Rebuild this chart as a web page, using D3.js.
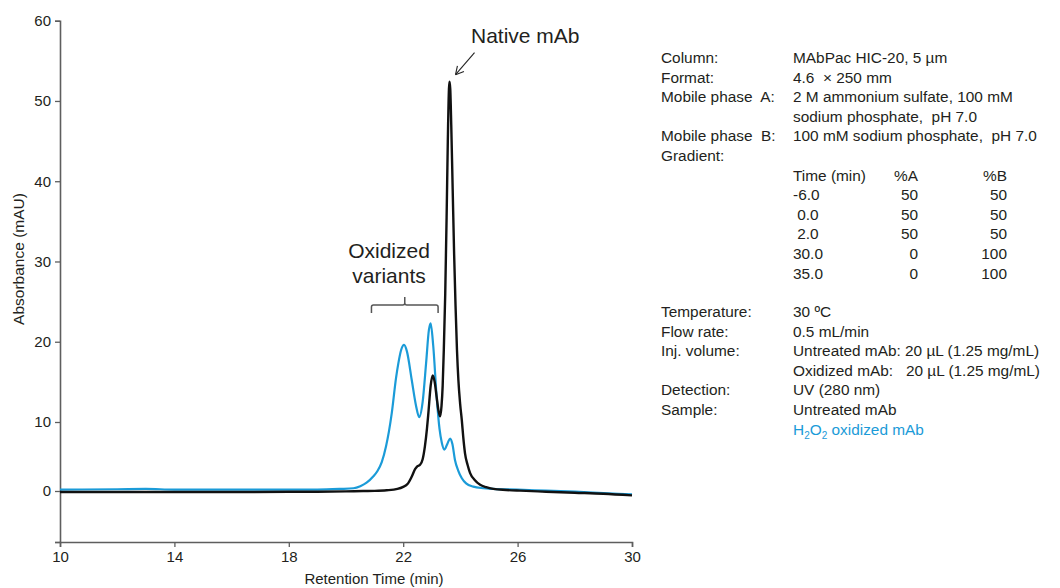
<!DOCTYPE html>
<html>
<head>
<meta charset="utf-8">
<script src="https://cdn.jsdelivr.net/npm/d3@7"></script>
<style>
  body { margin: 0; background: #fff; }
  svg text { font-family: "Liberation Sans", Arial, sans-serif; fill: #231f20; white-space: pre; }
</style>
</head>
<body>
<script>
// chromatogram traces (retention time in min, absorbance in mAU)
var blackTime = [10, 12, 14, 16, 18, 19, 20, 20.6, 21, 21.42, 21.8, 22.0, 22.15, 22.3, 22.42, 22.5, 22.59, 22.68, 22.76, 22.83, 22.88, 22.96, 23.03, 23.1, 23.17, 23.23, 23.29, 23.34, 23.38, 23.42, 23.47, 23.52, 23.56, 23.6, 23.62, 23.645, 23.68, 23.73, 23.78, 23.83, 23.88, 23.93, 23.99, 24.05, 24.1, 24.16, 24.25, 24.34, 24.5, 24.69, 24.9, 25.15, 25.6, 26.08, 27, 28, 29, 30];
var blackAbs  = [-0.15, -0.15, -0.15, -0.15, -0.12, -0.1, -0.05, 0, 0.02, 0.1, 0.3, 0.6, 1.0, 2.1, 3.2, 3.6, 3.8, 4.6, 6.5, 9, 11.1, 14.5, 15.8, 15.0, 13.1, 11.5, 10.7, 12, 14.5, 19, 26, 36, 45, 51.5, 52.4, 51.5, 47, 39, 31, 24.5, 19, 15.2, 12.3, 10.2, 7.8, 5.5, 3.8, 2.6, 1.6, 0.9, 0.55, 0.3, 0.15, 0.05, -0.1, -0.25, -0.4, -0.65];

var blueTime = [10, 12, 13, 14, 16, 18, 19, 19.8, 20.26, 20.5, 20.72, 20.95, 21.1, 21.25, 21.4, 21.5, 21.6, 21.75, 21.83, 21.93, 22.03, 22.13, 22.3, 22.45, 22.56, 22.68, 22.8, 22.9, 22.96, 23.05, 23.17, 23.27, 23.35, 23.44, 23.55, 23.64, 23.72, 23.81, 23.92, 24.05, 24.2, 24.45, 24.8, 25.15, 26, 27, 28, 29, 30];
var blueAbs  = [0.2, 0.25, 0.3, 0.2, 0.2, 0.2, 0.2, 0.3, 0.4, 0.7, 1.2, 2.1, 2.9, 4.2, 6.5, 8.6, 11.1, 15.5, 17.3, 19.0, 19.6, 18.8, 15.2, 12, 10.6, 12.5, 17.3, 21.5, 22.3, 19.5, 13.1, 9, 7.0, 6.0, 6.9, 7.6, 6.8, 4.5, 3.0, 1.85, 1.1, 0.63, 0.4, 0.3, 0.2, 0.05, -0.1, -0.3, -0.5];

var xTicks = [10, 14, 18, 22, 26, 30];
var yTicks = [0, 10, 20, 30, 40, 50, 60];
var yBottom = -7.5;

// method conditions
var condLabels = ["Column:", "Format:", "Mobile phase  A:", "", "Mobile phase  B:", "Gradient:"];
var condValues = ["MAbPac HIC-20, 5 µm", "4.6  × 250 mm", "2 M ammonium sulfate, 100 mM", "sodium phosphate,  pH 7.0", "100 mM sodium phosphate,  pH 7.0", ""];
var gradTime = ["-6.0", " 0.0", " 2.0", "30.0", "35.0"];
var gradA = [50, 50, 50, 0, 0];
var gradB = [50, 50, 50, 100, 100];
var runLabels = ["Temperature:", "Flow rate:", "Inj. volume:", "", "Detection:", "Sample:"];
var runValues = ["30 ºC", "0.5 mL/min", "Untreated mAb: 20 µL (1.25 mg/mL)", "Oxidized mAb:   20 µL (1.25 mg/mL)", "UV (280 nm)", "Untreated mAb"];

var svgW = 1060, svgH = 588;
var black = "#111", blue = "#1b9bd8", axisCol = "#5e5e5e";

var svg = d3.select("body").append("svg")
    .attr("width", svgW)
    .attr("height", svgH);

var xScale = d3.scaleLinear().domain([10, 30]).range([60, 632]);
// the printed axis is not quite uniform below 10 mAU
var yScale = d3.scaleLinear()
    .domain([yBottom, 0, 10, 60])
    .range([542, 491, 422, 20.7]);

//Y axis
var yAxis = d3.axisLeft(yScale)
    .tickValues([yBottom].concat(yTicks))
    .tickSize(5)
    .tickPadding(4)
    .tickFormat(function(d) { return d == yBottom ? "" : d; });
var gy = svg.append("g")
    .attr("transform", "translate(60,0)")
    .call(yAxis);

//X axis
var xAxis = d3.axisBottom(xScale)
    .tickValues(xTicks)
    .tickSize(5)
    .tickPadding(4);
var gx = svg.append("g")
    .attr("transform", "translate(0,542)")
    .call(xAxis);

[gx, gy].forEach(function(g) {
    g.select(".domain").attr("stroke", axisCol).attr("stroke-width", 1.6);
    g.selectAll(".tick line").attr("stroke", axisCol).attr("stroke-width", 1.3);
    g.selectAll(".tick text")
        .attr("font-family", "Liberation Sans, Arial, sans-serif")
        .attr("font-size", 15).attr("fill", "#231f20");
});

svg.append("text")
    .attr("x", 374).attr("y", 584)
    .attr("text-anchor", "middle")
    .attr("font-size", 15)
    .text("Retention Time (min)");

svg.append("text")
    .attr("transform", "translate(24,259) rotate(-90)")
    .attr("text-anchor", "middle")
    .attr("font-size", 15.5)
    .text("Absorbance (mAU)");

//Traces
var line = d3.line()
    .x(function(d) { return xScale(d[0]); })
    .y(function(d) { return yScale(d[1]); })
    .curve(d3.curveMonotoneX);

var blueData = blueTime.map(function(t, i) { return [t, blueAbs[i]]; });
var blackData = blackTime.map(function(t, i) { return [t, blackAbs[i]]; });

svg.append("path")
    .datum(blueData)
    .attr("d", line)
    .attr("fill", "none")
    .attr("stroke", blue)
    .attr("stroke-width", 2.2);

svg.append("path")
    .datum(blackData)
    .attr("d", line)
    .attr("fill", "none")
    .attr("stroke", black)
    .attr("stroke-width", 2.4);

//Annotations
svg.append("text")
    .attr("x", 471).attr("y", 43)
    .attr("font-size", 21)
    .text("Native mAb");

var tipX = xScale(23.62) + 6, tipY = yScale(52.4) - 7;
var startX = tipX + 19, startY = tipY - 22;
svg.append("line")
    .attr("x1", startX).attr("y1", startY)
    .attr("x2", tipX).attr("y2", tipY)
    .attr("stroke", "#222").attr("stroke-width", 1.1);
var ang = Math.atan2(startY - tipY, startX - tipX);
[-0.5, 0.5].forEach(function(da) {
    svg.append("line")
        .attr("x1", tipX).attr("y1", tipY)
        .attr("x2", tipX + 9 * Math.cos(ang + da))
        .attr("y2", tipY + 9 * Math.sin(ang + da))
        .attr("stroke", "#222").attr("stroke-width", 1.1);
});

svg.append("text")
    .attr("x", 389).attr("y", 258)
    .attr("text-anchor", "middle")
    .attr("font-size", 21)
    .text("Oxidized");
svg.append("text")
    .attr("x", 389).attr("y", 283)
    .attr("text-anchor", "middle")
    .attr("font-size", 21)
    .text("variants");

// bracket over the oxidized peaks
var bx0 = xScale(20.89), bx1 = xScale(23.22), bxm = (bx0 + bx1) / 2, by = 305;
svg.append("path")
    .attr("d", "M" + bx0 + "," + (by + 8) + " L" + bx0 + "," + (by + 2) +
          " Q" + bx0 + "," + by + " " + (bx0 + 2) + "," + by +
          " L" + (bxm - 2) + "," + by + " Q" + bxm + "," + by + " " + bxm + "," + (by - 2) +
          " L" + bxm + "," + (by - 8) + " M" + bxm + "," + (by - 2) +
          " Q" + bxm + "," + by + " " + (bxm + 2) + "," + by +
          " L" + (bx1 - 2) + "," + by + " Q" + bx1 + "," + by + " " + bx1 + "," + (by + 2) +
          " L" + bx1 + "," + (by + 8))
    .attr("fill", "none")
    .attr("stroke", "#555")
    .attr("stroke-width", 1.5);

//Conditions panel
var labX = 661, valX = 793, rowH = 19.6, fs = 15.4;
var panel = svg.append("g").attr("font-size", fs);

condLabels.forEach(function(l, i) {
    var y = 63 + i * rowH;
    panel.append("text").attr("x", labX).attr("y", y).text(l);
    panel.append("text").attr("x", valX).attr("y", y).text(condValues[i]);
});

var gy0 = 63 + 6 * rowH;
panel.append("text").attr("x", valX).attr("y", gy0).text("Time (min)");
panel.append("text").attr("x", 918).attr("y", gy0).attr("text-anchor", "end").text("%A");
panel.append("text").attr("x", 1007).attr("y", gy0).attr("text-anchor", "end").text("%B");
gradTime.forEach(function(t, i) {
    var y = gy0 + (i + 1) * rowH;
    panel.append("text").attr("x", valX).attr("y", y).text(t);
    panel.append("text").attr("x", 918).attr("y", y).attr("text-anchor", "end").text(gradA[i]);
    panel.append("text").attr("x", 1007).attr("y", y).attr("text-anchor", "end").text(gradB[i]);
});

var ry0 = 317;
runLabels.forEach(function(l, i) {
    var y = ry0 + i * rowH;
    panel.append("text").attr("x", labX).attr("y", y).text(l);
    panel.append("text").attr("x", valX).attr("y", y).text(runValues[i]);
});

var h2o2 = panel.append("text")
    .attr("x", valX).attr("y", ry0 + 6 * rowH)
    .style("fill", blue);
h2o2.append("tspan").text("H");
h2o2.append("tspan").attr("font-size", 10).attr("dy", 4).text("2");
h2o2.append("tspan").attr("dy", -4).text("O");
h2o2.append("tspan").attr("font-size", 10).attr("dy", 4).text("2");
h2o2.append("tspan").attr("dy", -4).text(" oxidized mAb");
</script>
</body>
</html>
